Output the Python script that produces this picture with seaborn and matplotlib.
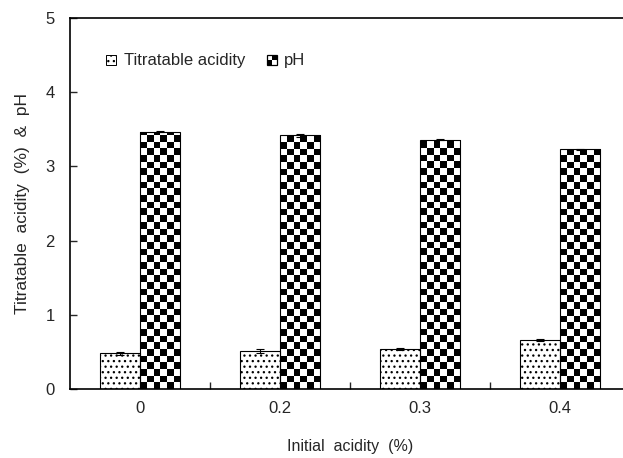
import numpy as np
import pandas as pd
import matplotlib
matplotlib.use("Agg")
import matplotlib.pyplot as plt
import seaborn as sns
from matplotlib.patches import Rectangle
from matplotlib.legend_handler import HandlerBase

# data
acidity = ["0", "0.2", "0.3", "0.4"]
series = ["Titratable acidity", "pH"]
ta = [0.48, 0.51, 0.54, 0.66]
ta_err = [0.02, 0.03, 0.01, 0.01]
ph = [3.47, 3.42, 3.36, 3.23]
ph_err = [0.01, 0.02, 0.01, 0.01]

sns.set_style("ticks")
plt.rcParams['font.family'] = ['Liberation Sans', 'DejaVu Sans']
plt.rcParams['hatch.color'] = '0.45'
plt.rcParams['hatch.linewidth'] = 0.9

df = pd.DataFrame({
    "acidity": acidity * 2,
    "value": ta + ph,
    "series": [series[0]] * len(ta) + [series[1]] * len(ph),
})

fig = plt.figure(figsize=(6.23, 4.58), dpi=100)
ax = fig.add_axes([70 / 623, 69 / 458, 560 / 623, 371 / 458])

sns.barplot(data=df, x="acidity", y="value", hue="series", order=acidity,
            hue_order=series, palette=["white", "white"], saturation=1,
            width=0.572, edgecolor="black", linewidth=0.8, errorbar=None,
            legend=False, ax=ax)

ax.set_xlim(-0.5, 3.5)
ax.set_ylim(0, 5)

# dotted fill for titratable acidity
for bar in ax.containers[0]:
    bar.set_hatch("...")

# checkerboard fill for pH, clipped to each bar
p0 = ax.transData.transform((0, 0))
p1 = ax.transData.transform((1, 1))
px_x, px_y = p1[0] - p0[0], p1[1] - p0[1]
for bar in ax.containers[1]:
    x0, w, h = bar.get_x(), bar.get_width(), bar.get_height()
    sq_px = w * px_x / 6
    sq_x, sq_y = sq_px / px_x, sq_px / px_y
    ncols = 6
    nrows = int(np.ceil(h / sq_y))
    board = np.add.outer(np.arange(nrows), np.arange(ncols)) % 2
    im = ax.imshow(board, extent=(x0, x0 + ncols * sq_x, 0, nrows * sq_y),
                   origin="lower", cmap="gray", interpolation="nearest",
                   aspect="auto", zorder=0.9)
    im.set_clip_path(bar)
    bar.set_facecolor("none")
    bar.set_zorder(1)

ax.set_xlim(-0.5, 3.5)
ax.set_ylim(0, 5)

# error bars on bar centres
for cont, err in zip(ax.containers, [ta_err, ph_err]):
    xs = [b.get_x() + b.get_width() / 2 for b in cont]
    ys = [b.get_height() for b in cont]
    ax.errorbar(xs, ys, yerr=err, fmt="none", ecolor="black",
                elinewidth=0.8, capsize=3, capthick=0.8, zorder=3)

ax.set_xticks(range(len(acidity)))
ax.set_xticklabels(acidity)
ax.set_xticks([0.5, 1.5, 2.5], minor=True)
ax.tick_params(axis="x", which="major", length=0, pad=8.5, labelsize=12)
ax.tick_params(axis="x", which="minor", direction="in", length=5, width=1)
ax.set_yticks(range(6))
ax.tick_params(axis="y", direction="in", length=5, width=1, pad=11, labelsize=12)
for s in ax.spines.values():
    s.set_linewidth(1.2)
    s.set_color("black")

ax.set_xlabel("Initial  acidity  (%)", fontsize=11.5, labelpad=17)
ax.set_ylabel("Titratable  acidity  (%)  &  pH", fontsize=12.5, labelpad=11)


class DotHandler(HandlerBase):
    def create_artists(self, legend, orig, xd, yd, width, height, fontsize, trans):
        s = min(width, height)
        r = Rectangle((xd + (width - s) / 2, yd + (height - s) / 2), s, s,
                      facecolor="white", edgecolor="black", linewidth=0.7,
                      hatch="...", transform=trans)
        return [r]


class CheckHandler(HandlerBase):
    def create_artists(self, legend, orig, xd, yd, width, height, fontsize, trans):
        s = min(width, height)
        x0, y0 = xd + (width - s) / 2, yd + (height - s) / 2
        arts = []
        for i in range(2):
            for j in range(2):
                c = "black" if (i + j) % 2 == 0 else "white"
                arts.append(Rectangle((x0 + i * s / 2, y0 + j * s / 2), s / 2, s / 2,
                                      facecolor=c, edgecolor="none", transform=trans))
        arts.append(Rectangle((x0, y0), s, s, facecolor="none", edgecolor="black",
                              linewidth=0.9, transform=trans))
        return arts


h_ta = Rectangle((0, 0), 1, 1)
h_ph = Rectangle((0, 0), 1, 1)
ax.legend([h_ta, h_ph], series, ncol=2, frameon=False, fontsize=12,
          handler_map={h_ta: DotHandler(), h_ph: CheckHandler()},
          handlelength=0.6, handleheight=0.6, handletextpad=0.45,
          columnspacing=1.3, borderpad=0, borderaxespad=0, loc="center left",
          bbox_to_anchor=(106 / 623, 1 - 60 / 458), bbox_transform=fig.transFigure)

fig.savefig("out.png", dpi=100)
